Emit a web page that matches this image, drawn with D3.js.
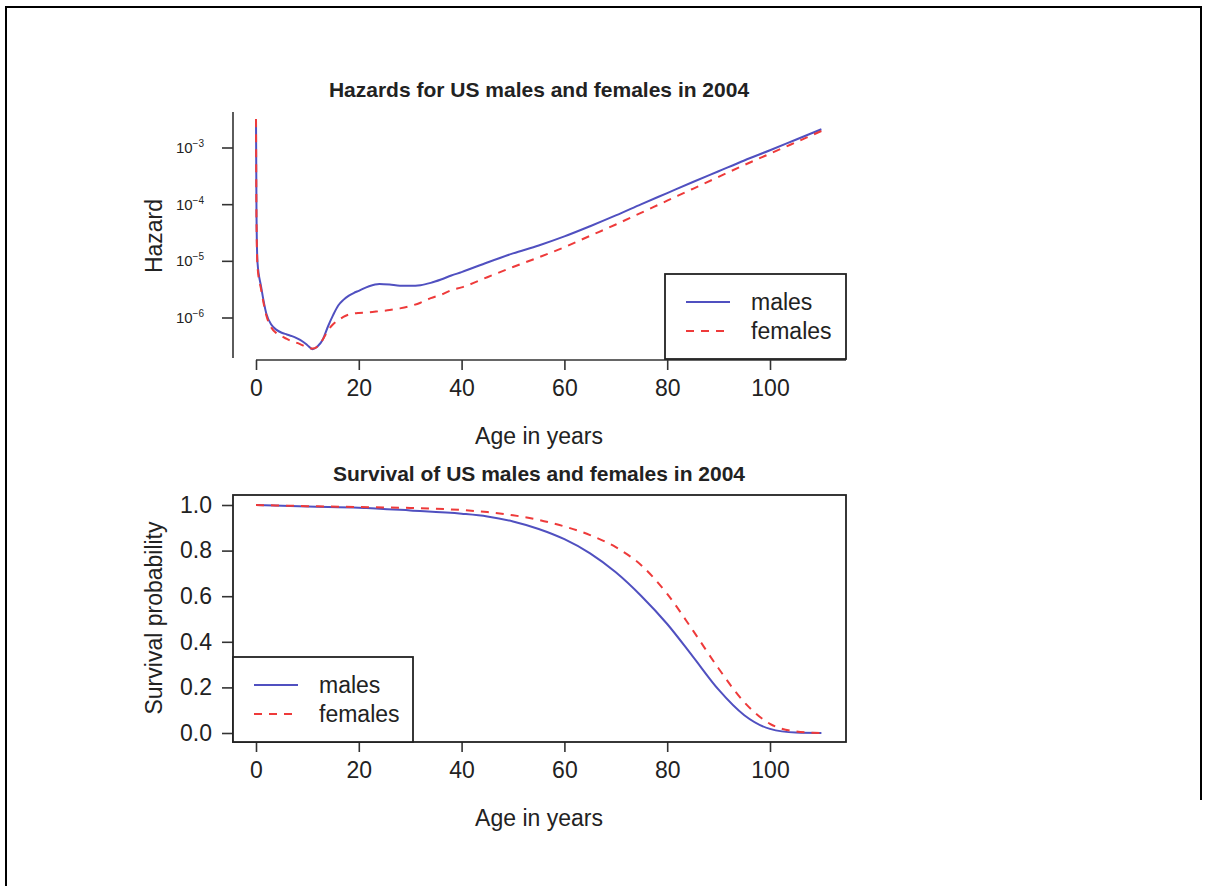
<!DOCTYPE html>
<html lang="en">
<head>
  <meta charset="UTF-8">
  <title>Hazards and survival of US males and females in 2004</title>
  <script src="https://d3js.org/d3.v7.min.js"></script>
  <style>
    body { margin: 0; background: #fff; }
    text { font-family: "Liberation Sans", Arial, Helvetica, sans-serif; fill: #222; }
  </style>
</head>
<body>
  <svg id="chart" width="1208" height="886"></svg>

  <script>
    // hazard ages and log10 daily hazards
    const hazardAges = [0, 0.1, 0.3, 1, 2, 3, 4, 5, 6, 7, 8, 9, 10, 11, 12, 13, 14, 15, 16, 17, 18, 19, 20,
      22, 24, 26, 28, 30, 32, 34, 36, 38, 40, 45, 50, 55, 60, 65, 70, 75, 80, 85, 90, 95, 100, 105, 110];
    const maleLog10Hazard = [-2.49, -4.2, -5.03, -5.45, -5.92, -6.12, -6.21, -6.26, -6.29, -6.32, -6.36, -6.41,
      -6.48, -6.55, -6.50, -6.38, -6.15, -5.95, -5.78, -5.68, -5.61, -5.56, -5.52,
      -5.44, -5.40, -5.41, -5.43, -5.43, -5.42, -5.38, -5.32, -5.25, -5.19, -5.02, -4.86, -4.72, -4.56,
      -4.38, -4.19, -3.99, -3.795, -3.60, -3.41, -3.22, -3.04, -2.855, -2.67];
    const femaleLog10Hazard = [-2.49, -4.3, -5.1, -5.5, -5.95, -6.17, -6.27, -6.32, -6.37, -6.41, -6.44, -6.48,
      -6.52, -6.54, -6.50, -6.38, -6.22, -6.11, -6.04, -5.98, -5.94, -5.92, -5.91,
      -5.90, -5.88, -5.86, -5.83, -5.79, -5.73, -5.65, -5.59, -5.51, -5.46, -5.28, -5.10, -4.93, -4.75,
      -4.55, -4.35, -4.14, -3.93, -3.72, -3.51, -3.30, -3.10, -2.90, -2.70];

    // survival
    const survivalAges = [0, 10, 20, 30, 40, 45, 50, 55, 60, 65, 70, 75, 80, 85, 90, 95, 100, 105, 110];
    const maleSurvival = [1.0, 0.993, 0.988, 0.976, 0.962, 0.950, 0.928, 0.895, 0.850, 0.788, 0.705, 0.600,
      0.478, 0.335, 0.190, 0.078, 0.018, 0.002, 0.0];
    const femaleSurvival = [1.0, 0.995, 0.991, 0.987, 0.978, 0.969, 0.955, 0.935, 0.906, 0.868, 0.815, 0.735,
      0.610, 0.450, 0.283, 0.135, 0.040, 0.007, 0.0];

    const ageTicks = [0, 20, 40, 60, 80, 100];
    const hazardTickExponents = [-3, -4, -5, -6];
    const survivalTicks = [0.0, 0.2, 0.4, 0.6, 0.8, 1.0];
    const seriesNames = ['males', 'females'];

    const maleColor = '#5050c0';
    const femaleColor = '#ee3a3a';
    const dash = '8,7';
    const axisColor = '#333';

    const svg = d3.select('#chart');

    // page frame
    svg.append('path')
      .attr('d', 'M6,886 V7 H1201 V800')
      .attr('fill', 'none')
      .attr('stroke', '#000')
      .attr('stroke-width', 2);

    function drawLegend(x0, y0, w, h) {
      svg.append('rect')
        .attr('x', x0).attr('y', y0).attr('width', w).attr('height', h)
        .attr('fill', '#fff').attr('stroke', '#222').attr('stroke-width', 1.8);
      seriesNames.forEach((name, i) => {
        const ly = y0 + 28 + i * 29;
        svg.append('line')
          .attr('x1', x0 + 21).attr('x2', x0 + 65).attr('y1', ly).attr('y2', ly)
          .attr('stroke', i === 0 ? maleColor : femaleColor)
          .attr('stroke-width', 2)
          .attr('stroke-dasharray', i === 0 ? null : dash);
        svg.append('text')
          .attr('x', x0 + 86).attr('y', ly + 8)
          .attr('font-size', 23)
          .text(name);
      });
    }

    // ---------- top: hazards ----------
    const x1 = d3.scaleLinear().domain([0, 100]).range([256, 770]);
    const y1 = d3.scaleLog().domain([1e-3, 1e-6]).range([148, 318]);

    const hazardRows = hazardAges.map((a, i) => ({
      age: a, male: Math.pow(10, maleLog10Hazard[i]), female: Math.pow(10, femaleLog10Hazard[i])
    }));

    const gTop = svg.append('g');

    const hazLine = key => d3.line()
      .x(d => x1(d.age))
      .y(d => y1(d[key]))
      .curve(d3.curveMonotoneX);

    gTop.append('path')
      .datum(hazardRows)
      .attr('d', hazLine('male'))
      .attr('fill', 'none').attr('stroke', maleColor).attr('stroke-width', 2);
    gTop.append('path')
      .datum(hazardRows)
      .attr('d', hazLine('female'))
      .attr('fill', 'none').attr('stroke', femaleColor).attr('stroke-width', 2)
      .attr('stroke-dasharray', dash);

    // y axis (log)
    gTop.append('line')
      .attr('x1', 233).attr('x2', 233).attr('y1', 112).attr('y2', 358)
      .attr('stroke', axisColor).attr('stroke-width', 1.6);
    hazardTickExponents.forEach(e => {
      const yy = y1(Math.pow(10, e));
      gTop.append('line')
        .attr('x1', 222).attr('x2', 233).attr('y1', yy).attr('y2', yy)
        .attr('stroke', axisColor).attr('stroke-width', 1.6);
      const t = gTop.append('text')
        .attr('x', 204).attr('y', yy + 5)
        .attr('text-anchor', 'end')
        .attr('font-size', 15);
      t.append('tspan').text('10');
      t.append('tspan').attr('font-size', 10).attr('dy', -6).text('\u2212' + Math.abs(e));
    });

    // x axis
    const xAxisTop = gTop.append('g').attr('transform', 'translate(0,360)')
      .call(d3.axisBottom(x1).tickValues(ageTicks).tickSize(10).tickPadding(10).tickSizeOuter(0));
    xAxisTop.select('.domain').attr('d', 'M256,0H846');
    xAxisTop.selectAll('path, line').attr('stroke', axisColor).attr('stroke-width', 1.6);
    xAxisTop.selectAll('text').attr('font-size', 23).attr('fill', '#222')
      .attr('font-family', '"Liberation Sans", Arial, sans-serif');

    drawLegend(665, 274, 181, 85);

    svg.append('text')
      .attr('x', 539).attr('y', 97)
      .attr('text-anchor', 'middle').attr('font-size', 21).attr('font-weight', 'bold')
      .text('Hazards for US males and females in 2004');
    svg.append('text')
      .attr('x', 539).attr('y', 444)
      .attr('text-anchor', 'middle').attr('font-size', 23)
      .text('Age in years');
    svg.append('text')
      .attr('transform', 'translate(162,236) rotate(-90)')
      .attr('text-anchor', 'middle').attr('font-size', 23)
      .text('Hazard');

    // ---------- bottom: survival ----------
    const x2 = d3.scaleLinear().domain([0, 100]).range([256, 770]);
    const y2 = d3.scaleLinear().domain([0, 1]).range([733, 505]);

    const survRows = survivalAges.map((a, i) => ({ age: a, male: maleSurvival[i], female: femaleSurvival[i] }));
    const survLine = key => d3.line()
      .x(d => x2(d.age))
      .y(d => y2(d[key]))
      .curve(d3.curveMonotoneX);

    const gBot = svg.append('g');
    gBot.append('path')
      .datum(survRows)
      .attr('d', survLine('male'))
      .attr('fill', 'none').attr('stroke', maleColor).attr('stroke-width', 2);
    gBot.append('path')
      .datum(survRows)
      .attr('d', survLine('female'))
      .attr('fill', 'none').attr('stroke', femaleColor).attr('stroke-width', 2)
      .attr('stroke-dasharray', dash);

    const yAxisBot = gBot.append('g').attr('transform', 'translate(233,0)')
      .call(d3.axisLeft(y2).tickValues(survivalTicks).tickFormat(d3.format('.1f'))
        .tickSize(11).tickPadding(10).tickSizeOuter(0));
    yAxisBot.select('.domain').remove();
    yAxisBot.selectAll('line').attr('stroke', axisColor).attr('stroke-width', 1.6);
    yAxisBot.selectAll('text').attr('font-size', 23).attr('fill', '#222')
      .attr('font-family', '"Liberation Sans", Arial, sans-serif');

    const xAxisBot = gBot.append('g').attr('transform', 'translate(0,742)')
      .call(d3.axisBottom(x2).tickValues(ageTicks).tickSize(10).tickPadding(10).tickSizeOuter(0));
    xAxisBot.select('.domain').remove();
    xAxisBot.selectAll('line').attr('stroke', axisColor).attr('stroke-width', 1.6);
    xAxisBot.selectAll('text').attr('font-size', 23).attr('fill', '#222')
      .attr('font-family', '"Liberation Sans", Arial, sans-serif');

    gBot.append('rect')
      .attr('x', 233).attr('y', 495).attr('width', 613).attr('height', 247)
      .attr('fill', 'none').attr('stroke', '#222').attr('stroke-width', 1.8);

    drawLegend(233, 657, 180, 85);

    svg.append('text')
      .attr('x', 539).attr('y', 481)
      .attr('text-anchor', 'middle').attr('font-size', 21).attr('font-weight', 'bold')
      .text('Survival of US males and females in 2004');
    svg.append('text')
      .attr('x', 539).attr('y', 826)
      .attr('text-anchor', 'middle').attr('font-size', 23)
      .text('Age in years');
    svg.append('text')
      .attr('transform', 'translate(162,618) rotate(-90)')
      .attr('text-anchor', 'middle').attr('font-size', 23)
      .text('Survival probability');
  </script>
</body>
</html>
